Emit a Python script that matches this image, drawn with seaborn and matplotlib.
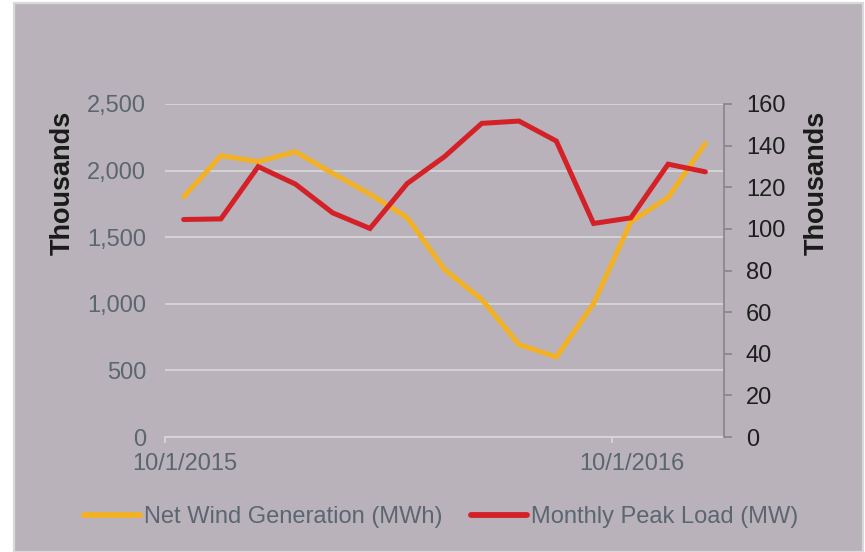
import matplotlib
matplotlib.use("Agg")
import matplotlib.pyplot as plt
from matplotlib.patches import Rectangle
import seaborn as sns
import pandas as pd

# ---- data (values in thousands) ----
months = ["10/1/2015", "11/1/2015", "12/1/2015", "1/1/2016", "2/1/2016", "3/1/2016",
          "4/1/2016", "5/1/2016", "6/1/2016", "7/1/2016", "8/1/2016", "9/1/2016",
          "10/1/2016", "11/1/2016", "12/1/2016"]
wind_gen = [1804, 2112, 2067, 2142, 1979, 1824, 1646, 1258, 1032, 694, 601, 1002, 1616, 1799, 2204]
peak_load = [104.5, 104.8, 129.9, 121.5, 107.7, 100.2, 121.8, 134.7, 150.7, 151.8, 142.2, 102.6, 105.3, 131.1, 127.4]
left_ticks = [0, 500, 1000, 1500, 2000, 2500]
right_ticks = [0, 20, 40, 60, 80, 100, 120, 140, 160]
x_tick_labels = ["10/1/2015", "10/1/2016"]
series_names = ["Net Wind Generation (MWh)", "Monthly Peak Load (MW)"]

BG = "#B9B2BA"
YELLOW = "#F2B124"
RED = "#D42027"
GREY_TXT = "#5B6670"
GRID = "#D9D9D9"

sns.set_style("white")
plt.rcParams["font.family"] = ["Liberation Sans", "DejaVu Sans"]

df = pd.DataFrame({"idx": range(len(months)), "month": months,
                   "wind": wind_gen, "load": peak_load})

fig = plt.figure(figsize=(8.65, 5.52), dpi=100)
fig.patch.set_facecolor("white")
fig.patches.append(Rectangle((14 / 865, 0), 849 / 865, 549 / 552, transform=fig.transFigure,
                             facecolor=BG, edgecolor=GRID, linewidth=1.6, zorder=-10))

ax = fig.add_axes([165 / 865, 1 - 437 / 552, (724 - 165) / 865, (437 - 104) / 552])
ax.set_facecolor("none")
ax2 = ax.twinx()
ax2.set_facecolor("none")

sns.lineplot(data=df, x="idx", y="wind", ax=ax, color=YELLOW, linewidth=3.6,
             label=series_names[0], legend=False)
sns.lineplot(data=df, x="idx", y="load", ax=ax2, color=RED, linewidth=3.6,
             label=series_names[1], legend=False)
for l in ax.lines + ax2.lines:
    l.set_solid_capstyle("round")
    l.set_solid_joinstyle("miter")

n = len(months)
ax.set_xlim(-0.5, n - 0.5)
ax.set_ylim(0, 2500)
ax2.set_ylim(0, 160)

ax.set_yticks(left_ticks)
ax.set_yticklabels([f"{v:,}" for v in left_ticks])
ax2.set_yticks(right_ticks)
ax2.set_yticklabels([str(v) for v in right_ticks])

# tick marks at the category boundaries of October each year;
# labels sit slightly to the right of the marks (Excel style)
xt = [months.index(m) - 0.5 for m in x_tick_labels]
ax.set_xticks(xt)
ax.set_xticklabels(["" for _ in xt])
label_shift = 20 / ((724 - 165) / n)  # 20 px expressed in category units
ax.set_xticks([v + label_shift for v in xt], minor=True)
ax.set_xticklabels(x_tick_labels, minor=True)

ax.set_xlabel("")
ax.set_ylabel("")
ax2.set_xlabel("")
ax2.set_ylabel("")

ax.grid(axis="y", color=GRID, linewidth=1.2)
ax.grid(axis="x", visible=False, which="both")
ax.set_axisbelow(True)

for s in ["left", "right", "top"]:
    ax.spines[s].set_visible(False)
ax.spines["bottom"].set_color(GRID)
ax.spines["bottom"].set_linewidth(1.2)
for s in ["left", "top", "bottom"]:
    ax2.spines[s].set_visible(False)
ax2.spines["right"].set_color("#8A8A8A")
ax2.spines["right"].set_linewidth(1.3)

ax.tick_params(axis="y", length=0, pad=13.5, labelsize=17, labelcolor=GREY_TXT)
ax.tick_params(axis="x", which="major", direction="out", length=4.3, width=1.2, color=GRID,
               bottom=True)
ax.tick_params(axis="x", which="minor", length=0, pad=11.3, labelsize=17,
               labelcolor=GREY_TXT, bottom=True)
ax2.tick_params(axis="y", direction="out", length=5.8, width=1.3, color="#8A8A8A",
                pad=10, labelsize=17, labelcolor="#1E1E1E", right=True)
ax2.tick_params(axis="y", which="minor", length=0)

fig.text(63 / 865, 1 - 183 / 552, "Thousands", rotation=90, ha="center", va="center",
         fontsize=19.5, fontweight="bold", color="#1A1A1A")
fig.text(817 / 865, 1 - 183 / 552, "Thousands", rotation=90, ha="center", va="center",
         fontsize=19.5, fontweight="bold", color="#1A1A1A")

handles = ax.lines[:1] + ax2.lines[:1]
leg = fig.legend(handles, series_names, loc="center", bbox_to_anchor=(441 / 865, 1 - 517 / 552),
                 ncol=2, frameon=False, fontsize=17, handlelength=2.4, handletextpad=0.15,
                 columnspacing=1.2, labelcolor=GREY_TXT)
for h in leg.legend_handles:
    h.set_linewidth(4.2)
    h.set_solid_capstyle("round")

fig.savefig("out.png", dpi=100, facecolor=fig.get_facecolor())
